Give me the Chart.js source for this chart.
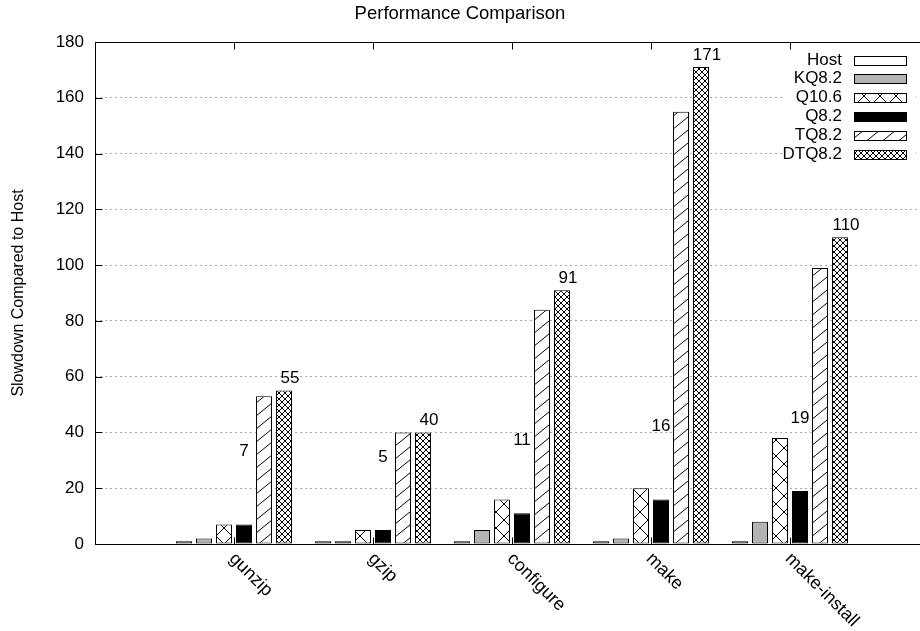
<!DOCTYPE html>
<html>
<head>
<meta charset="utf-8">
<script src="https://cdn.jsdelivr.net/npm/chart.js@4.4.1/dist/chart.umd.min.js"></script>
<style>
  html, body { margin: 0; padding: 0; background: #fff; overflow: hidden; }
  /* plot is a bit wider than the window: right border is cut off like in the original */
  #wrap { position: relative; width: 940px; height: 631px; }
</style>
</head>
<body>
<div id="wrap"><canvas id="chart"></canvas></div>
<script>
// data
const categories = ['gunzip', 'gzip', 'configure', 'make', 'make-install'];
const seriesNames = ['Host', 'KQ8.2', 'Q10.6', 'Q8.2', 'TQ8.2', 'DTQ8.2'];
const host = [1, 1, 1, 1, 1];
const kq82 = [2, 1, 5, 2, 8];
const q106 = [7, 5, 16, 20, 38];
const q82 = [7, 5, 11, 16, 19];
const tq82 = [53, 40, 84, 155, 99];
const dtq82 = [55, 40, 91, 171, 110];
const yTicks = [0, 20, 40, 60, 80, 100, 120, 140, 160, 180];

const FONT = "'Liberation Sans', Arial, Helvetica, sans-serif";
const canvas = document.getElementById('chart');
const ctx = canvas.getContext('2d');

// hatch patterns (gnuplot style fills)
function makePattern(w, h, draw) {
    const c = document.createElement('canvas');
    c.width = w;
    c.height = h;
    const g = c.getContext('2d');
    g.fillStyle = '#fff';
    g.fillRect(0, 0, w, h);
    g.strokeStyle = '#000';
    g.lineWidth = 1;
    g.beginPath();
    draw(g, w, h);
    g.stroke();
    return ctx.createPattern(c, 'repeat');
}
const bigCross = makePattern(16, 16, (g, w, h) => {
    g.moveTo(0, 0); g.lineTo(w, h);
    g.moveTo(0, h); g.lineTo(w, 0);
});
const slash = makePattern(16, 13, (g, w, h) => {
    g.moveTo(0, h); g.lineTo(w, 0);
});
const fineCross = makePattern(6, 6, (g, w, h) => {
    g.moveTo(0, 0); g.lineTo(w, h);
    g.moveTo(0, h); g.lineTo(w, 0);
});

const fills = ['#ffffff', '#b3b3b3', bigCross, '#000000', slash, fineCross];
const values = [host, kq82, q106, q82, tq82, dtq82];

// empty slot on each side so the category centers sit where gnuplot put them
const labels = ['', ...categories, ''];
const pad = arr => [null, ...arr, null];

const datasets = seriesNames.map((name, i) => ({
    label: name,
    data: pad(values[i]),
    backgroundColor: fills[i],
    borderColor: '#000',
    borderWidth: 1,
    borderSkipped: false
}));

// frame + inward tick marks
const framePlugin = {
    id: 'frame',
    afterDatasetsDraw(chart) {
        const { ctx, chartArea: a, scales } = chart;
        ctx.save();
        ctx.strokeStyle = '#000';
        ctx.lineWidth = 1;
        const L = Math.round(a.left) + 0.5, R = Math.round(a.right) + 0.5;
        const T = Math.round(a.top) + 0.5, B = Math.round(a.bottom) + 0.5;
        ctx.strokeRect(L, T, R - L, B - T);
        ctx.beginPath();
        yTicks.forEach(v => {
            const y = Math.round(scales.y.getPixelForValue(v)) + 0.5;
            ctx.moveTo(L, y); ctx.lineTo(L + 7, y);
            ctx.moveTo(R, y); ctx.lineTo(R - 7, y);
        });
        categories.forEach((c, i) => {
            const x = Math.round(scales.x.getPixelForValue(i + 1)) + 0.5;
            ctx.moveTo(x, B); ctx.lineTo(x, B - 7);
            ctx.moveTo(x, T); ctx.lineTo(x, T + 7);
        });
        ctx.stroke();
        ctx.restore();
    }
};

// value labels, rotated category labels, key, title
const textPlugin = {
    id: 'texts',
    afterDraw(chart) {
        const { ctx, chartArea: a, scales } = chart;
        ctx.save();
        ctx.fillStyle = '#000';
        ctx.font = `17px ${FONT}`;
        ctx.textAlign = 'center';
        ctx.textBaseline = 'middle';

        // Q8.2 values float well above their bars
        chart.getDatasetMeta(3).data.forEach((bar, i) => {
            const v = datasets[3].data[i];
            if (v == null) return;
            ctx.fillText(String(v), bar.x, bar.y - 73);
        });
        // DTQ8.2 values just above the bar
        chart.getDatasetMeta(5).data.forEach((bar, i) => {
            const v = datasets[5].data[i];
            if (v == null) return;
            ctx.fillText(String(v), bar.x + 6, bar.y - 12);
        });

        // x labels rotated -45 (downwards)
        ctx.textAlign = 'left';
        ctx.font = `18px ${FONT}`;
        categories.forEach((c, i) => {
            const x = scales.x.getPixelForValue(i + 1);
            ctx.save();
            ctx.translate(x - 2, a.bottom + 12);
            ctx.rotate(Math.PI / 4);
            ctx.fillText(c, 0, 0);
            ctx.restore();
        });

        // key (opaque, no box)
        ctx.font = `17px ${FONT}`;
        const keyRight = a.right - 87;
        ctx.fillStyle = '#fff';
        ctx.fillRect(keyRight - 60, a.top + 8, 134, 114);
        seriesNames.forEach((name, i) => {
            const y = a.top + 18 + i * 18.8;
            ctx.fillStyle = '#000';
            ctx.textAlign = 'right';
            ctx.fillText(name, keyRight, y);
            const sx = keyRight + 12, sy = Math.round(y - 4.5) + 0.5;
            ctx.fillStyle = fills[i];
            ctx.fillRect(sx, sy, 53, 9);
            ctx.strokeStyle = '#000';
            ctx.lineWidth = 1;
            ctx.strokeRect(sx + 0.5, sy, 52, 9);
        });

        // title, centred on the visible 920px
        ctx.fillStyle = '#000';
        ctx.textAlign = 'center';
        ctx.font = `18.5px ${FONT}`;
        ctx.fillText('Performance Comparison', 460, 14);
        ctx.restore();
    }
};

new Chart(ctx, {
    type: 'bar',
    data: { labels, datasets },
    options: {
        responsive: true,
        maintainAspectRatio: false,
        animation: false,
        events: [],
        layout: { padding: { top: 42, right: 11, left: 0, bottom: 0 } },
        datasets: { bar: { categoryPercentage: 120 / 139, barPercentage: 0.8 } },
        plugins: { legend: { display: false }, tooltip: { enabled: false } },
        scales: {
            x: {
                offset: false,
                grid: { display: false, drawTicks: false },
                border: { display: false },
                ticks: { display: false },
                afterFit: s => { s.height = 87; }
            },
            y: {
                min: 0,
                max: 180,
                afterBuildTicks: s => { s.ticks = yTicks.map(v => ({ value: v })); },
                grid: { color: '#a8a8a8', lineWidth: 1, drawTicks: false },
                border: { display: false, dash: [2, 3] },
                ticks: { padding: 11, color: '#000', font: { family: FONT, size: 17 } },
                title: {
                    display: true,
                    text: 'Slowdown Compared to Host',
                    color: '#000',
                    font: { family: FONT, size: 16 },
                    padding: { top: 9, bottom: 0 }
                },
                afterFit: s => { s.width = 95; }
            }
        }
    },
    plugins: [framePlugin, textPlugin]
});
</script>
</body>
</html>
